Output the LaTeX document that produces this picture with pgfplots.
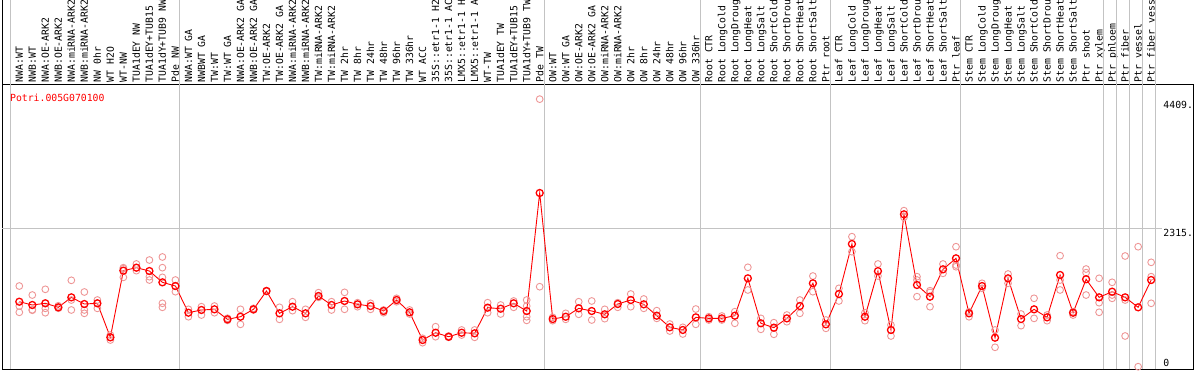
\documentclass[border=0pt]{standalone}
\usepackage{fontspec}
\setmonofont{DejaVu Sans Mono}
\usepackage{pgfplots}
\usepackage{pgfplotstable}
\pgfplotsset{compat=1.18}
\definecolor{rep}{RGB}{238,150,150}
\definecolor{sepgray}{RGB}{195,195,195}
\newcommand{\lblfont}{\ttfamily\fontsize{9.8}{10}\selectfont}

\pgfplotstableread{
x y
0 1107
1 1053
2 1081
3 1015
4 1179
5 1069
6 1081
7 521
8 1618
9 1667
10 1612
11 1426
12 1365
13 926
14 971
15 982
16 817
17 860
18 982
19 1283
20 916
21 1025
22 916
23 1201
24 1053
25 1119
26 1064
27 1036
28 954
29 1135
30 933
31 477
32 597
33 531
34 597
35 587
36 1009
37 992
38 1081
39 954
40 2896
41 822
42 860
43 998
44 954
45 900
46 1069
47 1135
48 1064
49 877
50 686
51 642
52 850
53 833
54 833
55 877
56 1492
57 752
58 680
59 833
60 1036
61 1410
62 735
63 1234
64 2057
65 860
66 1610
67 642
68 2545
69 1382
70 1190
71 1640
72 1821
73 916
74 1365
75 515
76 1492
77 822
78 982
79 850
80 1547
81 926
82 1476
83 1179
84 1272
85 1179
86 1015
87 1464
}\means

\pgfplotstableread{
x y
0 1365
0 1036
0 933
1 1217
1 975
1 967
2 1311
2 998
2 926
3 1040
3 1000
3 1005
4 1459
4 1135
4 971
5 1267
5 971
5 916
6 1135
6 1081
6 998
7 559
7 521
7 477
8 1667
8 1508
8 1650
9 1728
9 1618
9 1667
10 1793
10 1519
10 1464
11 1843
11 1667
11 1508
11 1081
11 1015
12 1464
12 1272
13 982
13 860
14 1025
14 888
15 1036
15 926
16 800
16 835
17 982
17 735
18 998
18 971
19 1290
19 1276
20 1015
20 817
21 1107
21 960
22 982
22 850
23 1256
23 1179
24 1107
24 971
25 1261
25 982
26 1091
26 1025
27 1081
27 982
28 971
28 926
29 1163
29 1107
30 971
30 905
31 505
31 433
32 696
32 531
33 543
33 521
34 642
34 559
35 642
35 521
36 1091
36 926
37 1053
37 905
38 1119
38 1015
39 1135
39 1036
39 860
39 800
40 4440
40 1354
41 850
41 795
42 916
42 817
43 1107
43 900
44 1119
44 806
45 982
45 828
46 1091
46 1015
47 1234
47 1025
48 1152
48 998
49 960
49 833
50 740
50 625
51 686
51 576
52 987
52 735
53 860
53 806
54 872
54 806
55 943
55 752
56 1673
56 1300
57 833
57 653
58 762
58 571
59 888
59 778
60 1135
60 916
61 1530
61 1272
62 806
62 669
63 1327
63 1119
64 2177
64 1930
65 926
65 795
66 1728
66 1530
67 724
67 543
68 2605
68 2496
69 1519
69 1190
69 1464
70 1288
70 1025
70 1260
71 1728
71 1574
72 2012
72 1711
72 1683
73 943
73 860
74 1410
74 1327
75 642
75 357
76 1563
76 1410
77 905
77 713
78 1163
78 833
79 888
79 795
80 1864
80 1464
80 1300
81 943
81 888
82 1645
82 1585
82 1217
83 1492
83 1091
83 933
84 1426
84 1217
84 1163
85 1859
85 543
85 1135
86 2012
86 38
87 1755
87 1519
87 1081
}\reps

\begin{document}
\begin{tikzpicture}[x=1pt,y=1pt]
\useasboundingbox (0,0) rectangle (1194,370);
\begin{axis}[
  at={(2.3pt,1pt)}, anchor=south west,
  scale only axis, width=1190.7pt, height=284pt,
  xmin=-1.307, xmax=90.22, ymin=0, ymax=4672.6,
  clip=false,
  axis line style={black, line width=1pt},
  ytick=\empty,
  xtick={0,...,87},
  major tick length=0pt,
  xticklabel pos=upper,
  xticklabel shift=2.3pt,
  xticklabel style={rotate=90, anchor=west, inner sep=0pt, font=\lblfont,
    text height=7.15pt, text depth=0pt},
  xticklabels={NWA:WT,NWB:WT,NWA:OE-ARK2,NWB:OE-ARK2,NWA:miRNA-ARK2,NWB:miRNA-ARK2,NW 0hr,WT H2O,WT-NW,TUA1dEY NW,TUA1dEY+TUB15,TUA1dY+TUB9 NW,Pde NW,
    NWA:WT GA,NWBWT GA,TW:WT,TW:WT GA,NWA:OE-ARK2 GA,NWB:OE-ARK2 GA,TW:OE-ARK2,TW:OE-ARK2 GA,NWA:miRNA-ARK2,NWB:miRNA-ARK2,TW:miRNA-ARK2,TW:miRNA-ARK2,TW 2hr,TW 8hr,TW 24hr,TW 48hr,TW 96hr,TW 336hr,WT ACC,35S::etr1-1 H2,35S::etr1-1 AC,LMX5::etr1-1 H,LMX5::etr1-1 A,WT-TW,TUA1dEY TW,TUA1dEY+TUB15,TUA1dY+TUB9 TW,Pde TW,
    OW:WT,OW:WT GA,OW:OE-ARK2,OW:OE-ARK2 GA,OW:miRNA-ARK2,OW:miRNA-ARK2,OW 2hr,OW 8hr,OW 24hr,OW 48hr,OW 96hr,OW 336hr,
    Root CTR,Root LongCold,Root LongDroug,Root LongHeat,Root LongSalt,Root ShortCold,Root ShortDrou,Root ShortHeat,Root ShortSalt,Ptr root,
    Leaf CTR,Leaf LongCold,Leaf LongDroug,Leaf LongHeat,Leaf LongSalt,Leaf ShortCold,Leaf ShortDrou,Leaf ShortHeat,Leaf ShortSalt,Ptr leaf,
    Stem CTR,Stem LongCold,Stem LongDroug,Stem LongHeat,Stem LongSalt,Stem ShortCold,Stem ShortDrou,Stem ShortHeat,Stem ShortSalt,Ptr shoot,Ptr xylem,
    Ptr phloem,Ptr fiber,Ptr vessel,Ptr fiber vess},
]
% group separators
\foreach \s in {-0.65,12.35,40.35,52.35,62.35,72.35,83.35,84.35,85.35,86.35,87.35}{
  \edef\tmp{\noexpand\draw[sepgray, line width=1pt] (axis cs:\s,0) -- (axis cs:\s,6090);}\tmp
}
\draw[sepgray, line width=1pt] (axis cs:-1.307,2315) -- (axis cs:87.8,2315);
\draw[black, line width=1pt] (axis cs:-1.307,4672.6) -- (axis cs:-1.307,6090);

\addplot[only marks, mark=o, mark size=3.4pt, color=rep, mark options={line width=0.9pt}] table[x=x,y=y] {\reps};
\addplot[color=red, line width=0.9pt, mark=o, mark size=3.5pt, mark options={line width=1.3pt}] table[x=x,y=y] {\means};

\node[anchor=base west, inner sep=0pt, text=red, font=\lblfont] at (axis cs:-0.72,4400) {Potri.005G070100};
\node[anchor=base west, inner sep=0pt, font=\lblfont] at (axis cs:87.93,4280) {4409.};
\node[anchor=base west, inner sep=0pt, font=\lblfont] at (axis cs:87.93,2188) {2315.};
\node[anchor=base west, inner sep=0pt, font=\lblfont] at (axis cs:87.93,49) {0};
\end{axis}
\end{tikzpicture}
\end{document}
